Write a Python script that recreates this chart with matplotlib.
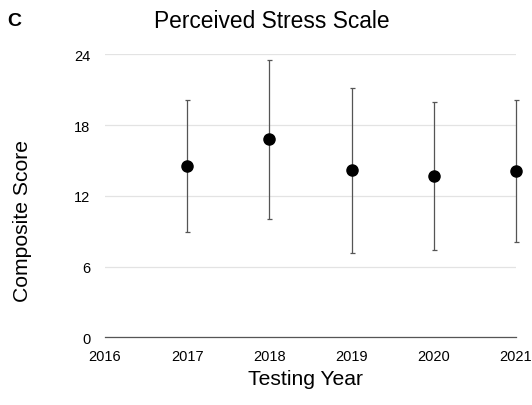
import matplotlib
matplotlib.use("Agg")
import matplotlib.pyplot as plt

years = [2017, 2018, 2019, 2020, 2021]
means = [14.5, 16.8, 14.15, 13.65, 14.1]
sds = [5.6, 6.73, 6.97, 6.28, 6.04]
xticks = [2016, 2017, 2018, 2019, 2020, 2021]
yticks = [0, 6, 12, 18, 24]

plt.rcParams['font.family'] = ['Liberation Sans', 'DejaVu Sans']

fig = plt.figure(figsize=(5.32, 4.06), dpi=100)
ax = fig.add_axes([105/532, 1-338.3/406, (516-105)/532, (338.3-55.3)/406])

ax.errorbar(years, means, yerr=sds, fmt='o', color='black', markersize=8,
            ecolor='#555555', elinewidth=0.9, capsize=1.8, capthick=0.9,
            clip_on=False, zorder=3)

ax.set_xlim(2016, 2021)
ax.set_ylim(0, 24)
ax.set_xticks(xticks)
ax.set_xticklabels([str(x) for x in xticks])
ax.set_yticks(yticks)
ax.set_yticklabels([str(y) for y in yticks])
ax.tick_params(axis='both', length=0, labelsize=10.5, colors='black')
ax.tick_params(axis='x', pad=8.5)
ax.tick_params(axis='y', pad=10.5)
ax.grid(axis='y', color='#e3e3e3', linewidth=0.9)
ax.set_axisbelow(True)
for s in ['top', 'right', 'left']:
    ax.spines[s].set_visible(False)
ax.spines['bottom'].set_color('#555555')
ax.spines['bottom'].set_linewidth(0.9)

fig.text(305.5/532, 1-380/406, 'Testing Year', fontsize=15.2, ha='center', va='center')
fig.text(23/532, 1-221.5/406, 'Composite Score', fontsize=15.2, ha='center', va='center',
         rotation=90)
fig.text(272/532, 1-22/406, 'Perceived Stress Scale', fontsize=16.4, ha='center', va='center')
fig.text(7/532, 1-22/406, 'C', fontsize=14, fontweight='bold', ha='left', va='center')

fig.savefig('out.png', dpi=100)
